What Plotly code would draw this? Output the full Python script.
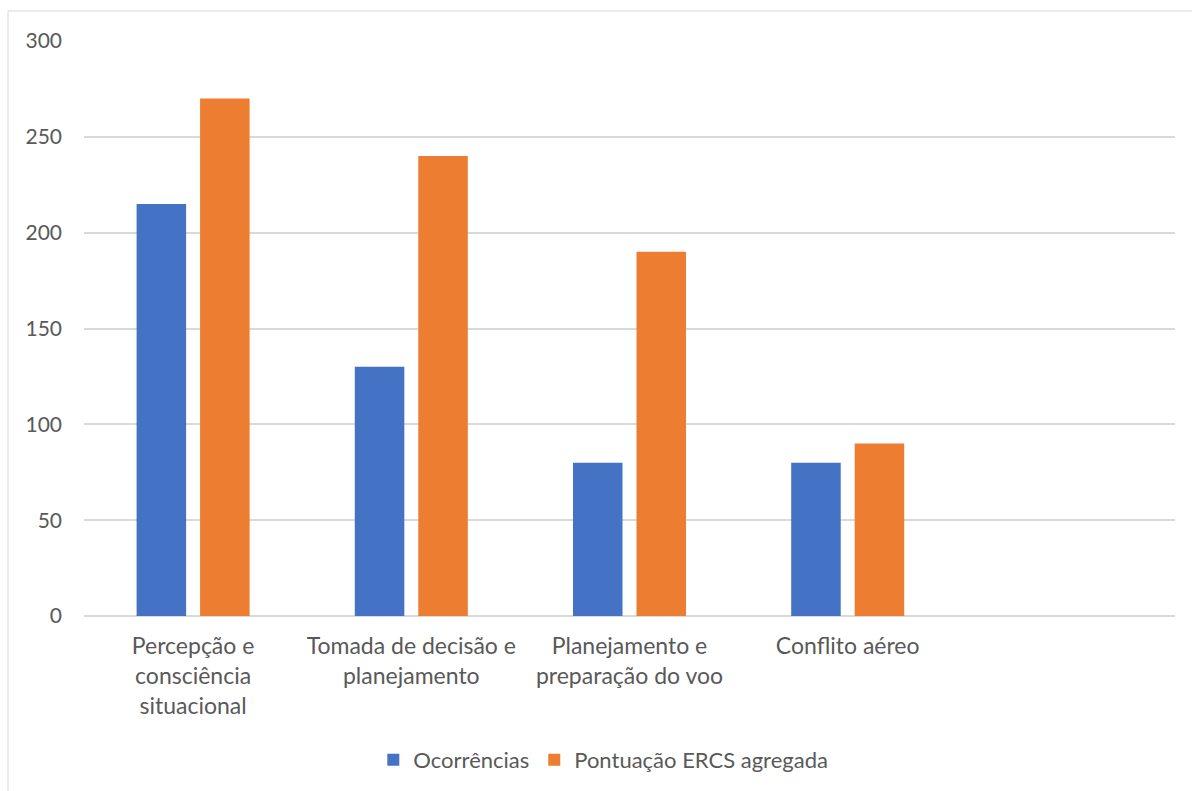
import plotly.graph_objects as go

categories = [
    "Percepção e<br>consciência<br>situacional",
    "Tomada de decisão e<br>planejamento",
    "Planejamento e<br>preparação do voo",
    "Conflito aéreo",
]
ocorrencias = [215, 130, 80, 80]
pontuacao_ercs = [270, 240, 190, 90]

y_ticks = [0, 50, 100, 150, 200, 250, 300]

text_color = "#595959"
grid_color = "#d9d9d9"
font_family = "Lato, 'Open Sans', sans-serif"

fig = go.Figure()
fig.add_trace(go.Bar(
    name="Ocorrências", x=categories, y=ocorrencias,
    marker=dict(color="#4472c4", line=dict(width=0)),
))
fig.add_trace(go.Bar(
    name="Pontuação ERCS agregada", x=categories, y=pontuacao_ercs,
    marker=dict(color="#ed7d31", line=dict(width=0)),
))

fig.update_layout(
    width=1192, height=791,
    margin=dict(l=84, r=17, t=41, b=174),
    paper_bgcolor="white", plot_bgcolor="white",
    font=dict(family=font_family, size=22, color=text_color),
    barmode="group", bargap=0.418, bargroupgap=0.22,
    showlegend=True,
    legend=dict(
        orientation="h", x=0.476, xanchor="center", y=-0.248, yanchor="middle",
        font=dict(size=22, color=text_color), itemwidth=30,
    ),
    xaxis=dict(
        type="category", range=[-0.5, 4.5],
        showgrid=False, showline=False, ticks="",
        ticklabelstandoff=14,
        tickfont=dict(size=23, color=text_color),
    ),
    yaxis=dict(
        range=[0, 300], tickvals=y_ticks,
        showgrid=True, gridcolor=grid_color, gridwidth=1.5,
        zeroline=True, zerolinecolor=grid_color, zerolinewidth=1.5,
        showline=False, ticks="", ticklabelstandoff=21,
        tickfont=dict(size=21, color=text_color),
    ),
    shapes=[dict(
        type="rect", xref="paper", yref="paper",
        x0=(8 - 84) / 1091, x1=(1200 - 84) / 1091,
        y0=(617 - 800) / 576, y1=(617 - 11) / 576,
        line=dict(color=grid_color, width=1), fillcolor="rgba(0,0,0,0)",
        layer="below",
    )],
)

fig.write_html("out.html")
